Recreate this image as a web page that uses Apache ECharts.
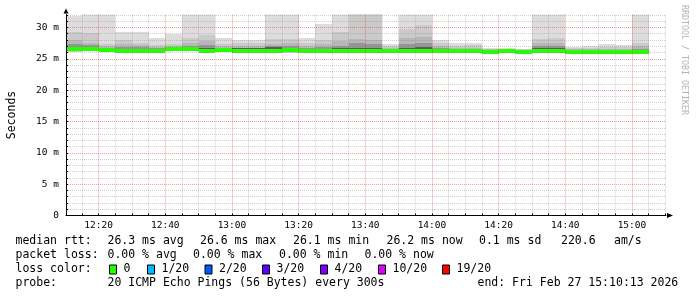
<!DOCTYPE html>
<html><head><meta charset="utf-8">
<script src="https://cdn.jsdelivr.net/npm/echarts@6.0.0/dist/echarts.min.js"></script>
<style>html,body{margin:0;padding:0;background:#fff}#c{width:697px;height:297px}</style>
</head><body><div id="c"></div>
<script>
// ---- data ----
const blockEnd = ['12:15','12:20','12:25','12:30','12:35','12:40','12:45','12:50','12:55','13:00',
  '13:05','13:10','13:15','13:20','13:25','13:30','13:35','13:40','13:45','13:50',
  '13:55','14:00','14:05','14:10','14:15','14:20','14:25','14:30','14:35','14:40',
  '14:45','14:50','14:55','15:00','15:05'];
const medianMs = [26.5,26.5,26.4,26.3,26.3,26.2,26.6,26.6,26.3,26.4,26.3,26.3,26.3,26.35,26.3,26.3,26.3,26.3,26.25,26.3,26.25,26.25,26.3,26.25,26.2,26.1,26.2,26.1,26.3,26.2,26.1,26.1,26.1,26.1,26.15];
const pingMax = [31.8,33,33,29.3,29.3,28.4,29.0,33,33,28.4,28.0,28.0,33,33,28.4,30.6,33,33,33,27.3,33,33,28.0,27.5,27.6,26.7,26.8,26.6,33,33,26.9,27.1,27.3,27.2,33];
const ping19 = [29.2,29.1,27.3,28.0,27.6,27.2,27.4,28.4,28.8,27.4,27.6,27.6,28.1,28.2,27.6,28.0,29.3,33,33,27.0,29.8,30.4,27.6,27.1,27.2,26.6,26.6,26.5,28.1,28.3,26.7,26.8,26.9,26.9,27.6];
const ping18 = [28.0,27.6,27.0,27.4,27.2,26.9,27.1,27.6,27.8,27.0,27.1,27.1,27.4,27.5,27.0,27.3,27.8,28.2,28.0,26.8,28.3,28.5,27.0,26.8,26.8,26.5,26.5,26.4,27.5,27.6,26.5,26.6,26.6,26.6,27.0];
const ping16 = [27.3,27.2,26.8,26.9,26.9,26.7,26.9,27.1,27.2,26.8,26.8,26.8,27.1,27.1,26.8,26.9,27.1,27.5,27.4,26.6,27.4,27.6,26.8,26.6,26.6,26.4,26.4,26.3,27.0,27.1,26.4,26.4,26.4,26.4,26.6];
const ping13 = [26.9,26.8,26.6,26.6,26.6,26.5,26.8,26.9,26.7,26.6,26.7,26.7,26.9,26.8,26.6,26.6,26.7,26.8,26.7,26.5,26.8,26.9,26.6,26.5,26.4,26.3,26.4,26.25,26.7,26.8,26.3,26.3,26.3,26.3,26.4];
const pingLow = [26.3,26.3,26.2,26.1,26.1,26.0,26.4,26.4,26.1,26.2,26.1,26.1,26.1,26.15,26.1,26.1,26.1,26.1,26.05,26.1,26.05,26.05,26.1,26.05,26.0,25.95,26.0,25.95,26.1,26.0,25.95,25.95,25.95,25.95,26.0];
const pingMin = [26.1,26.2,26.1,26.0,26.0,25.9,26.3,26.2,26.0,26.1,26.0,26.0,26.0,26.0,26.0,26.0,26.0,26.0,26.0,26.0,26.0,26.0,26.0,26.0,25.9,25.9,25.9,25.9,26.0,25.9,25.9,25.9,25.9,25.9,25.9];

const yLabelValues = [0,5,10,15,20,25,30];
const xLabelTimes = ['12:20','12:40','13:00','13:20','13:40','14:00','14:20','14:40','15:00'];
const timeStart = '12:10:13';
const timeEnd = '15:10:13';
const stepMinutes = 5;

const rttStats = ['26.3 ms avg','26.6 ms max','26.1 ms min','26.2 ms now','0.1 ms sd','220.6','am/s'];
const lossStats = ['0.00 % avg','0.00 % max','0.00 % min','0.00 % now'];
const lossLabels = ['0','1/20','2/20','3/20','4/20','10/20','19/20'];
const lossColors = ['#26ff00','#00b8ff','#0059ff','#5e00ff','#7e00ff','#dd00ff','#ff0000'];
const probeText = '20 ICMP Echo Pings (56 Bytes) every 300s';
const endText = 'end: Fri Feb 27 15:10:13 2026';

// ---- helpers ----
function toMin(s){ const p = s.split(':').map(Number); return p[0]*60 + p[1] + (p[2]||0)/60; }
function fmtMin(v){ const h = Math.floor(v/60), m = Math.round(v - h*60); return String(h).padStart(2,'0')+':'+String(m).padStart(2,'0'); }

const xMin = toMin(timeStart), xMax = toMin(timeEnd);
const xMinorTicks = [];
for (let t = Math.ceil(xMin/stepMinutes)*stepMinutes; t <= xMax; t += stepMinutes) xMinorTicks.push(t);
const yMinorTicks = [];
for (let v = 0; v <= 32; v++) yMinorTicks.push(v);

const rows = blockEnd.map((t,i) => [toMin(t), pingMin[i], pingLow[i], ping13[i], ping16[i], ping18[i], ping19[i], pingMax[i], medianMs[i]]);

const FONT = '"DejaVu Sans Mono"';
const MAJOR = 'rgba(210,0,0,0.38)';
const MINOR = 'rgba(128,128,128,0.38)';

function renderItem(params, api){
  const end = api.value(0), start = end - stepMinutes;
  const cs = params.coordSys;
  const layers = [[1,7,'#dddddd'],[1,6,'#cacaca'],[2,5,'#b7b7b7'],[2,4,'#959595'],[2,3,'#5c5c5c']];
  const children = [];
  layers.forEach(L => {
    const a = api.coord([start, api.value(L[0])]);
    const b = api.coord([end, api.value(L[1])]);
    const x0 = Math.round(a[0]), x1 = Math.round(b[0]);
    const y0 = Math.round(b[1]), y1 = Math.round(a[1]);
    const r = echarts.graphic.clipRectByRect({x:x0, y:y0, width:x1-x0, height:y1-y0}, {x:cs.x, y:cs.y, width:cs.width, height:cs.height});
    if (r) children.push({type:'rect', shape:r, style:{fill:L[2]}});
  });
  const m0 = api.coord([start, api.value(8)]), m1 = api.coord([end, api.value(8)]);
  const mx0 = Math.round(m0[0]), mx1 = Math.round(m1[0]);
  const my = Math.round(m0[1]);
  const mr = echarts.graphic.clipRectByRect({x:mx0, y:my-2, width:mx1-mx0, height:4}, {x:cs.x, y:cs.y, width:cs.width, height:cs.height});
  if (mr) children.push({type:'rect', shape:mr, style:{fill:lossColors[0]}});
  return {type:'group', children};
}

// ---- legend graphics ----
const L1 = 241.5, L2 = 255.5, L3 = 269.5, L4 = 283.5;
const TF = '11.5px ' + FONT;
function txt(s, x, y){ return {type:'text', x, y, silent:true, style:{text:s, font:TF, fill:'#000', align:'left', verticalAlign:'middle'}}; }
const g = [];
g.push(txt('median rtt:', 15.5, L1));
const rttX = [107.5, 200, 293, 386.5, 479, 561, 614];
rttStats.forEach((s,i) => g.push(txt(s, rttX[i], L1)));
g.push(txt('packet loss:', 15.5, L2));
const lossX = [107.5, 193, 279, 364.5];
lossStats.forEach((s,i) => g.push(txt(s, lossX[i], L2)));
g.push(txt('loss color:', 15.5, L3));
const boxX = [109, 147, 204.5, 262, 320, 378, 442];
lossLabels.forEach((s,i) => {
  g.push({type:'rect', silent:true, shape:{x:boxX[i]+0.5, y:265, width:7, height:9}, style:{fill:lossColors[i], stroke:'#000', lineWidth:1}});
  g.push(txt(s, boxX[i]+14.5, L3));
});
g.push(txt('probe:', 15.5, L4));
g.push(txt(probeText, 107.5, L4));
g.push(txt(endText, 477.5, L4));
g.push({type:'text', x:684, y:5, rotation:-Math.PI/2, silent:true,
  style:{text:'RRDTOOL / TOBI OETIKER', font:'8.3px ' + FONT, fill:'#b4b4b4', align:'left', verticalAlign:'middle'}});

const option = {
  animation:false,
  backgroundColor:'#ffffff',
  textStyle:{fontFamily:FONT},
  grid:{left:66, top:14.5, width:600, height:201, containLabel:false, outerBoundsMode:'none'},
  xAxis:{
    type:'value', min:xMin, max:xMax, z:10,
    axisLine:{show:true, onZero:false, lineStyle:{color:'#000', width:1},
      symbol:['none','triangle'], symbolSize:[5,6], symbolOffset:[0,4]},
    axisTick:{show:true, length:2, inside:true, customValues:xMinorTicks, lineStyle:{color:'#000'}},
    axisLabel:{customValues:xLabelTimes.map(toMin), formatter:v => fmtMin(v), fontSize:9.5, fontFamily:FONT, color:'#000', margin:5},
    splitLine:{show:true, lineStyle:{color:[MINOR, MAJOR, MINOR, MINOR], type:[1,1], width:1}},
    minorSplitLine:{show:false}
  },
  yAxis:{
    type:'value', min:0, max:32.07, z:10,
    name:'Seconds', nameLocation:'middle', nameRotate:90, nameGap:48,
    nameTextStyle:{fontSize:11.5, fontFamily:FONT, color:'#000'},
    axisLine:{show:true, onZero:false, lineStyle:{color:'#000', width:1},
      symbol:['none','triangle'], symbolSize:[5,5], symbolOffset:[0,3.5]},
    axisTick:{show:true, length:2, inside:true, customValues:yMinorTicks, lineStyle:{color:'#000'}},
    axisLabel:{customValues:yLabelValues, formatter:v => v === 0 ? '0' : v + ' m', fontSize:9.5, fontFamily:FONT, color:'#000', margin:7},
    splitLine:{show:true, lineStyle:{color:[MAJOR, MINOR, MINOR, MINOR, MINOR], type:[1,1], width:1}}
  },
  series:[{
    type:'custom', renderItem, data:rows, z:1,
    encode:{x:0, y:[1,7]}, silent:true
  }],
  graphic:{elements:g}
};
const chart = echarts.init(document.getElementById('c'), null, {renderer:'canvas'});
chart.setOption(option);
</script></body></html>
